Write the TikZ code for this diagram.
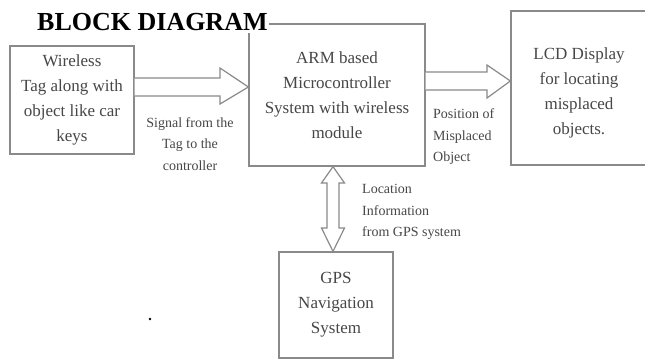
\documentclass[tikz,border=0pt]{standalone}
\usepackage{fontspec}
\setmainfont{Liberation Serif}
\usetikzlibrary{calc}
\definecolor{boxline}{HTML}{8A8A8A}
\definecolor{boxtext}{HTML}{474747}
\tikzset{
  blockbox/.style={draw=boxline, line width=1.2pt, fill=white, inner sep=0pt,
    text=boxtext, align=center, font=\fontsize{17}{25}\selectfont},
  hollow/.style={draw=boxline, line width=1.2pt, fill=white, line join=miter},
  lbl/.style={text=boxtext, inner sep=0pt, font=\fontsize{14}{21.5}\selectfont},
}
\begin{document}
\begin{tikzpicture}[x=1pt,y=-1pt]
\useasboundingbox[fill=white] (0,0) rectangle (645,360);
% blocks
\node[blockbox, minimum width=124pt, minimum height=108pt] (tag) at (72,100)
  {Wireless\\Tag along with\\object like car\\keys};
\node[blockbox, minimum width=176pt, minimum height=142pt] (arm) at (337,95)
  {ARM based\\Microcontroller\\System with wireless\\module};
\node[blockbox, minimum width=140pt, minimum height=154pt] (lcd) at (581,88) {};
\node[text=boxtext, align=center, font=\fontsize{17}{25}\selectfont] (lcdtxt) at (579,93)
  {LCD Display\\for locating\\misplaced\\objects.};
\node[blockbox, minimum width=114pt, minimum height=106pt] (gps) at (336,305)
  {GPS\\Navigation\\System};
% title
\node[anchor=base west, fill=white, inner xsep=1pt, inner ysep=3pt,
  font=\fontsize{26}{30}\bfseries\selectfont] (title) at (36,30) {BLOCK DIAGRAM};
% arrow tag -> arm
\coordinate (a1s) at (tag.east);
\coordinate (a1t) at ($(arm.west)+(0,-8)$);
\draw[hollow] ($(a1s)+(0,-22)$) -- (220,78) -- (220,68) -- (a1t) -- (220,104)
  -- (220,96) -- ($(a1s)+(0,-4)$);
% arrow arm -> lcd
\coordinate (a2s) at (arm.east);
\coordinate (a2t) at ($(lcd.west)+(0,-7)$);
\draw[hollow] ($(a2s)+(0,-23)$) -- (487,72) -- (487,65) -- (a2t) -- (487,98)
  -- (487,90) -- ($(a2s)+(0,-5)$);
% double arrow arm <-> gps
\coordinate (a3t) at ($(arm.south)+(-4,0)$);
\coordinate (a3b) at ($(gps.north)+(-3,0)$);
\draw[hollow] (a3t) -- (344.5,183) -- (339,183) -- (339,228) -- (344.5,228)
  -- (a3b) -- (321.5,228) -- (327,228) -- (327,183) -- (321.5,183) -- cycle;
% labels
\node[lbl, align=center] (sig) at (190,144) {Signal from the\\Tag to the\\controller};
\node[lbl, align=left, anchor=west] (pos) at (433,137) {Position of\\Misplaced\\Object};
\node[lbl, align=left, anchor=west] (loc) at (362,212) {Location\\Information\\from GPS system};
% dot
\fill (150,319) circle (1.3pt);
\end{tikzpicture}
\end{document}
